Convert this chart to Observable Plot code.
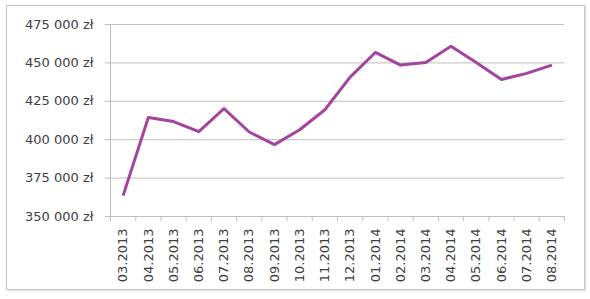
<!DOCTYPE html>
<html>
<head>
<meta charset="utf-8">
<script src="https://cdn.jsdelivr.net/npm/d3@7"></script>
<script src="https://cdn.jsdelivr.net/npm/@observablehq/plot@0.6"></script>
<style>
  body { margin: 0; background: #fff; }
  #wrap { position: relative; width: 590px; height: 299px; }
  #frame { position: absolute; left: 6px; top: 5px; width: 577px; height: 283px; border: 1px solid #c4c4c4; box-shadow: 1px 1px 2px rgba(0,0,0,0.15); pointer-events: none; }
</style>
</head>
<body>
<div id="wrap"><div id="frame"></div></div>
<script>
const months = ["03.2013","04.2013","05.2013","06.2013","07.2013","08.2013","09.2013","10.2013","11.2013","12.2013","01.2014","02.2014","03.2014","04.2014","05.2014","06.2014","07.2014","08.2014"];
const values = [363600, 414500, 411800, 405200, 420200, 405000, 396800, 406500, 419500, 440700, 456800, 448600, 450300, 460800, 450300, 439200, 443200, 448600];
const yTicks = [350000, 375000, 400000, 425000, 450000, 475000];

const data = months.map((m, i) => ({i, m, v: values[i]}));
const fmt = d => d3.format(",")(d).replace(/,/g, " ") + " zł";
const boundaries = d3.range(months.length + 1).map(k => k - 0.5);

const chart = Plot.plot({
  width: 590,
  height: 299,
  marginLeft: 110,
  marginRight: 26,
  marginTop: 24,
  marginBottom: 83,
  style: {fontFamily: "DejaVu Sans", fontSize: "13px", color: "#404040", background: "transparent"},
  x: {type: "linear", domain: [-0.5, months.length - 0.5], label: null},
  y: {domain: [350000, 475000], label: null},
  marks: [
    Plot.ruleY(yTicks.slice(1), {stroke: "#bfbfbf", strokeWidth: 1, strokeOpacity: 1}),
    Plot.ruleY([350000], {stroke: "#bfbfbf", strokeWidth: 1, strokeOpacity: 1}),
    Plot.ruleX([-0.5], {stroke: "#bfbfbf", strokeWidth: 1, strokeOpacity: 1}),
    Plot.axisY({ticks: yTicks, tickFormat: fmt, tickSize: 5, tickPadding: 12, stroke: "#bfbfbf", strokeOpacity: 1, fill: "#404040", fontSize: 13, label: null}),
    Plot.axisX({ticks: boundaries, tickFormat: () => "", tickSize: 5, stroke: "#bfbfbf", strokeOpacity: 1, label: null}),
    Plot.axisX({ticks: d3.range(months.length), tickFormat: i => months[i], tickSize: 0, tickPadding: 12, tickRotate: -90, fill: "#404040", fontSize: 13, label: null}),
    Plot.line(data, {x: "i", y: "v", stroke: "#a4449f", strokeWidth: 3, strokeLinejoin: "round", strokeLinecap: "butt"})
  ]
});
document.getElementById("wrap").prepend(chart);
chart.style.position = "absolute";
chart.style.left = "0";
chart.style.top = "0";
</script>
</body>
</html>
